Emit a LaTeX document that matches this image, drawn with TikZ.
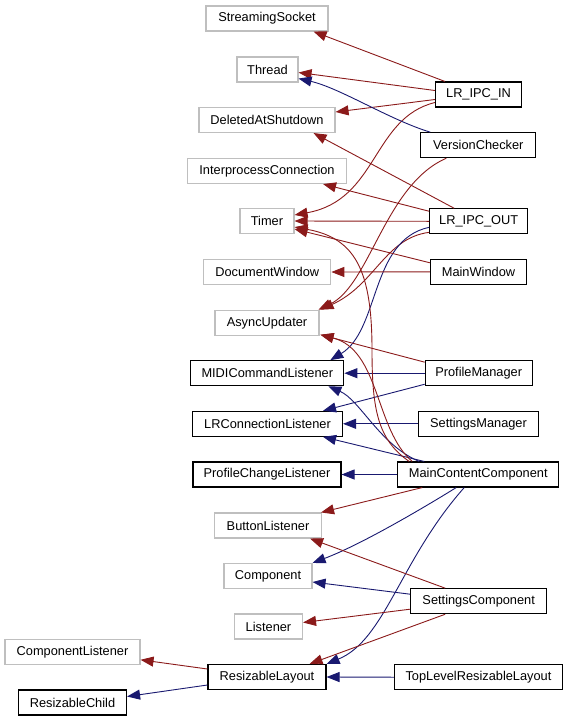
\documentclass[tikz,border=0pt]{standalone}
\usepackage{fontspec}
\setmainfont{Liberation Sans}
\usetikzlibrary{arrows.meta,calc}
\definecolor{privred}{HTML}{8B1A1A}
\definecolor{pubblue}{HTML}{191970}
\definecolor{undocgrey}{HTML}{BFBFBF}
\tikzset{
  cls/.style={rectangle, minimum height=25pt, inner sep=0pt, font=\fontsize{12.8}{15}\selectfont, fill=white},
  docbox/.style={cls, draw=black, line width=1.1pt},
  undocbox/.style={cls, draw=undocgrey, line width=1.1pt},
  privedge/.style={draw=privred, line width=0.9pt, -{Triangle[length=13pt,width=10pt]}, color=privred},
  pubedge/.style={draw=pubblue, line width=0.9pt, -{Triangle[length=13pt,width=10pt]}, color=pubblue},
}
\begin{document}
\begin{tikzpicture}[x=1pt,y=-1pt]
\useasboundingbox (0,0) rectangle (568,721);
% left column
\node[undocbox, minimum width=122pt] (ss) at (267,18.5) {StreamingSocket};
\node[undocbox, minimum width=61pt] (th) at (267.5,69.5) {Thread};
\node[undocbox, minimum width=136pt] (das) at (267,120) {DeletedAtShutdown};
\node[undocbox, minimum width=159pt] (ipc) at (267,171) {InterprocessConnection};
\node[undocbox, minimum width=54pt] (tm) at (267,221) {Timer};
\node[undocbox, minimum width=127pt] (dw) at (267.3,272) {DocumentWindow};
\node[undocbox, minimum width=104pt] (au) at (267,322.7) {AsyncUpdater};
\node[docbox, minimum width=153pt] (midi) at (267.3,373.2) {MIDICommandListener};
\node[docbox, minimum width=150pt] (lrcl) at (267.5,423.8) {LRConnectionListener};
\node[docbox, minimum width=148pt] (pcl) at (267,474.5) {ProfileChangeListener};
\node[undocbox, minimum width=107pt] (bl) at (268,525.5) {ButtonListener};
\node[undocbox, minimum width=88pt] (cmp) at (268,576) {Component};
\node[undocbox, minimum width=68pt] (lis) at (268.5,626.5) {Listener};
\node[docbox, minimum width=118pt] (rl) at (267,677) {ResizableLayout};
\node[undocbox, minimum width=135pt] (cl) at (72.5,651.8) {ComponentListener};
\node[docbox, minimum width=108pt] (rc) at (72.5,702.5) {ResizableChild};
% right column
\node[docbox, minimum width=86pt] (in) at (478.5,94.5) {LR\_IPC\_IN};
\node[docbox, minimum width=115pt] (vc) at (478.3,145.2) {VersionChecker};
\node[docbox, minimum width=98pt] (out) at (478.7,221.3) {LR\_IPC\_OUT};
\node[docbox, minimum width=96pt] (mw) at (478.5,271.8) {MainWindow};
\node[docbox, minimum width=107pt] (pm) at (478.7,373.2) {ProfileManager};
\node[docbox, minimum width=120pt] (sm) at (478.5,423.8) {SettingsManager};
\node[docbox, minimum width=161pt] (mcc) at (478.3,474.5) {MainContentComponent};
\node[docbox, minimum width=136pt] (sc) at (478.7,601.2) {SettingsComponent};
\node[docbox, minimum width=168pt] (tl) at (478.5,677.2) {TopLevelResizableLayout};

% LR_IPC_IN
\draw[privedge] ($(in.north west)+(10,0)$) -- ($(ss.south east)+(-15,0)$);
\draw[privedge] ($(in.west)+(0,-4)$) -- ($(th.east)+(0,3)$);
\draw[privedge] ($(in.west)+(0,5)$) -- ($(das.east)+(0,-8)$);
\draw[privedge] ($(in.west)+(0,8)$) .. controls (372,118) and (378,200) .. ($(tm.east)+(0,-6)$);
% VersionChecker
\draw[pubedge] ($(vc.north west)+(10,0)$) .. controls (390,120) and (340,88) .. ($(th.south east)+(0,-4)$);
\draw[privedge] ($(vc.south west)+(26,0)$) .. controls (385,185) and (370,285) .. ($(au.north east)+(-1,0)$);
% LR_IPC_OUT
\draw[privedge] ($(out.north west)+(25,0)$) -- ($(das.south east)+(-22,0)$);
\draw[privedge] ($(out.north west)+(0,3)$) -- ($(ipc.south east)+(-24,0)$);
\draw[privedge] (out.west) -- (tm.east);
\draw[privedge] ($(out.south west)+(0,-2)$) .. controls (385,238) and (375,285) .. ($(au.north east)+(1,0)$);
\draw[pubedge] ($(out.west)+(0,6)$) .. controls (370,240) and (380,330) .. ($(midi.north east)+(-14,0)$);
% MainWindow
\draw[privedge] (mw.west) -- (dw.east);
\draw[privedge] ($(mw.west)+(0,-9)$) -- ($(tm.south east)+(0,-5)$);
% ProfileManager
\draw[privedge] ($(pm.north west)+(0,2)$) -- ($(au.south east)+(1,-1)$);
\draw[pubedge] (pm.west) -- (midi.east);
\draw[pubedge] ($(pm.south west)+(0,-2)$) -- ($(lrcl.north east)+(-20,0)$);
% SettingsManager
\draw[pubedge] (sm.west) -- (lrcl.east);
% MainContentComponent
\draw[pubedge] (mcc.west) -- (pcl.east);
\draw[pubedge] ($(mcc.north west)+(27,0)$) -- ($(lrcl.south east)+(-20,0)$);
\draw[pubedge] ($(mcc.north west)+(22,0)$) .. controls (380,445) and (360,400) .. ($(midi.south east)+(-16,0)$);
\draw[privedge] ($(mcc.north west)+(12,0)$) .. controls (378,440) and (372,410) .. (372,350) .. controls (372,270) and (355,238) .. ($(tm.south east)+(0,-7)$);
\draw[privedge] ($(mcc.north west)+(15,0)$) .. controls (375,430) and (380,350) .. ($(au.south east)+(1,-1)$);
\draw[privedge] ($(mcc.south west)+(25,0)$) -- ($(bl.north east)+(-1,0)$);
\draw[pubedge] ($(mcc.south west)+(59,0)$) .. controls (420,510) and (360,545) .. (cmp.north east);
\draw[pubedge] ($(mcc.south west)+(67,0)$) .. controls (400,560) and (385,640) .. (rl.north east);
% SettingsComponent
\draw[privedge] ($(sc.north west)+(35,0)$) -- ($(bl.south east)+(-12,0)$);
\draw[pubedge] ($(sc.west)+(0,-7)$) -- ($(cmp.east)+(0,6)$);
\draw[privedge] ($(sc.west)+(0,8)$) -- ($(lis.east)+(0,-4)$);
\draw[privedge] ($(sc.south west)+(35,0)$) -- ($(rl.north east)+(-17,0)$);
% TopLevelResizableLayout
\draw[pubedge] (tl.west) -- (rl.east);
% ResizableLayout
\draw[privedge] ($(rl.west)+(0,-8)$) -- ($(cl.east)+(0,8)$);
\draw[pubedge] ($(rl.west)+(0,8)$) -- ($(rc.east)+(0,-6)$);
\end{tikzpicture}
\end{document}
